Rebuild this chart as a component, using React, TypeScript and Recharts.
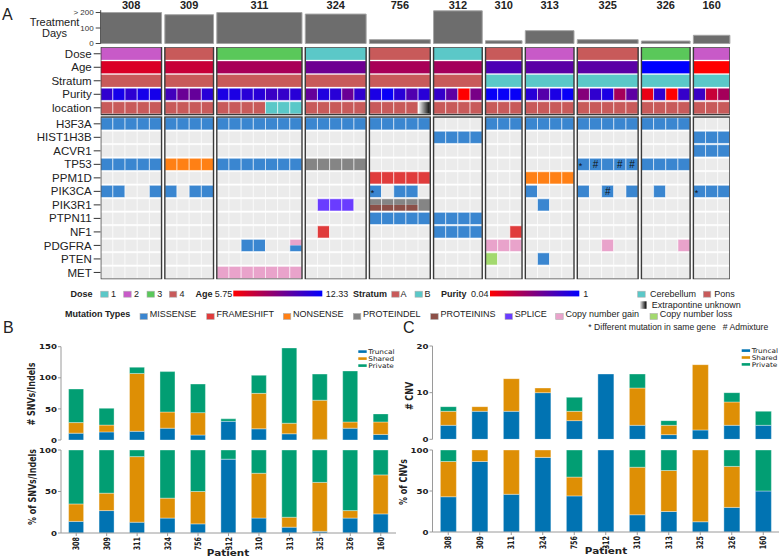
import React from "react";
import {
  ScatterChart,
  Scatter,
  BarChart,
  Bar,
  XAxis,
  YAxis,
  ReferenceArea,
} from "recharts";

/* ---------- panel A data ---------- */
const PATIENTS = ["308", "309", "311", "324", "756", "312", "310", "313", "325", "326", "160"];
const SAMPLES = [5, 4, 7, 5, 5, 4, 3, 4, 5, 4, 3];
const TREATMENT_DAYS = [200, 186, 200, 190, 25, 211, 18, 83, 25, 16, 53];
const DOSE = [2, 4, 3, 1, 4, 1, 4, 2, 4, 3, 2];
const AGE = [6.7, 7.2, 8.0, 9.5, 8.0, 8.1, 10.4, 10.0, 10.0, 12.33, 5.75];
const STRATUM = ["A", "A", "A", "A", "A", "A", "B", "B", "B", "B", "B"];
const PURITY = [
  [0.82, 0.92, 0.83, 0.92, 0.92],
  [0.75, 0.6, 0.62, 0.85],
  [0.9, 0.9, 0.85, 0.85, 0.78, 0.8, 0.85],
  [0.62, 0.88, 0.85, 0.6, 0.82],
  [0.9, 0.97, 0.85, 0.7, 0.85],
  [0.8, 0.65, 0.04, 0.55],
  [0.97, 0.97, 0.97],
  [0.85, 0.68, 0.9, 0.97],
  [0.5, 0.82, 0.9, 0.38, 0.65],
  [0.12, 0.82, 0.04, 0.8],
  [0.78, 0.25, 0.38],
];
// P = pons, C = cerebellum, U = extrapontine unknown
const LOCATION = ["PPPPP", "PPPP", "PPPPCCC", "PPPPP", "PPPPU", "PPPP", "PPP", "PPPP", "PPPPP", "PPPP", "PPP"];

const ANNOT_ROWS = ["Dose", "Age", "Stratum", "Purity", "location"];
const GENES = ["H3F3A", "HIST1H3B", "ACVR1", "TP53", "PPM1D", "PIK3CA", "PIK3R1", "PTPN11", "NF1", "PDGFRA", "PTEN", "MET"];
// one string per gene, one group per patient, one char per sample
// M missense, F frameshift, N nonsense, D proteindel, I proteinins, S splice,
// G copy gain, L copy loss, X = proteindel/proteinins, Y = gain/missense
const CALLS = [
  "MMMMM MMMM MMMMMMM MMMMM MMMMM .... MMM MMMM MMMMM MMMM ...",
  "..... .... ....... ..... ..... MMMM ... .... ..... .... MMM",
  "..... .... ....... ..... ..... .... ... .... ..... .... MMM",
  "MMMMM NNNN MMMMMMM DDDDD ..... .... ... .... MMMMM MMMM ...",
  "..... .... ....... ..... FFFFF .... ... NNNN ..... .... ...",
  "MM..M M.MM ....... ..... M.MM. .... ... M... M.M.M .M.. MMM",
  "..... .... ....... .SSS. XXXXD .... ... .M.. ..... .... ...",
  "..... .... ....... ..... MMMMM MMMM ... .... ..... .... ...",
  "..... .... ....... .F... ..... MMMM ..F .... ..... .... ...",
  "..... .... ..MM..Y ..... ..... .... GGG .... ..G.. ...G ...",
  "..... .... ....... ..... ..... .... L.. .M.. ..... .... ...",
  "..... .... GGGGGGG ..... ..... .... ... .... ..... .... ...",
];
const MARKS: [string, string, number, string][] = [
  ["TP53", "325", 0, "*"],
  ["TP53", "325", 1, "#"],
  ["TP53", "325", 3, "#"],
  ["TP53", "325", 4, "#"],
  ["PIK3CA", "756", 0, "*"],
  ["PIK3CA", "325", 2, "#"],
  ["PIK3CA", "160", 0, "*"],
];

/* ---------- panel B / C data ---------- */
const SNV_TRUNCAL = [11, 13, 14, 19, 8, 30, 18, 10, 1, 19, 9];
const SNV_SHARED = [17, 11, 93, 26, 36, 0, 57, 17, 63, 10, 20];
const SNV_PRIVATE = [54, 27, 10, 65, 46, 4, 29, 121, 42, 82, 13];
const SNV_PCT_TRUNCAL = [14, 27, 13, 18, 11, 89, 18, 7, 2, 18, 23];
const SNV_PCT_SHARED = [21, 21, 79, 24, 39, 0, 54, 12, 59, 9, 47];
const SNV_PCT_PRIVATE = [65, 52, 8, 58, 50, 11, 28, 81, 39, 73, 30];

const CNV_TRUNCAL = [3, 6, 6, 10, 4, 14, 3, 1, 2, 3, 3];
const CNV_SHARED = [3, 1, 7, 1, 2, 0, 8, 2, 14, 5, 0];
const CNV_PRIVATE = [1, 0, 0, 0, 3, 0, 3, 1, 0, 2, 3];
const CNV_PCT_TRUNCAL = [43, 86, 46, 91, 44, 100, 21, 25, 12.5, 30, 50];
const CNV_PCT_SHARED = [43, 14, 54, 9, 23, 0, 58, 50, 87.5, 50, 0];
const CNV_PCT_PRIVATE = [14, 0, 0, 0, 33, 0, 21, 25, 0, 20, 50];

/* ---------- styling ---------- */
const FONT_A = "'Liberation Sans', Arial, sans-serif";
const FONT_B = "'DejaVu Sans', sans-serif";

const DOSE_COLORS: Record<number, string> = { 1: "#5bc8c8", 2: "#c85ac8", 3: "#5ac85a", 4: "#c85a5a" };
const STRATUM_COLORS: Record<string, string> = { A: "#c85a5a", B: "#5ac8c8" };
const LOC_COLORS: Record<string, string> = { P: "#c85a5a", C: "#5ac8c8", U: "url(#extrap)" };
const MUT_COLORS: Record<string, string> = {
  M: "#3a86d0",
  F: "#e03c3c",
  N: "#ff8015",
  D: "#858585",
  I: "#8c5048",
  S: "#6a3cff",
  G: "#e9a3cb",
  L: "#a3d96e",
  ".": "#ebebeb",
};
const SPLIT: Record<string, [string, string]> = { X: ["D", "I"], Y: ["G", "M"] };

const C_TRUNCAL = "#0173b2";
const C_SHARED = "#de8f05";
const C_PRIVATE = "#029e73";
const SPINE = "#9a9a9a";

function redBlue(t: number) {
  const c = Math.max(0, Math.min(1, t));
  return `rgb(${Math.round(255 * (1 - c))},0,${Math.round(255 * c)})`;
}

/* ---------- panel A geometry ---------- */
const PLOT_L = 100.7;
const PLOT_R = 729.9;
const GAP = 0.27;
const STARTS: number[] = [];
SAMPLES.forEach((n, i) => STARTS.push(i === 0 ? 0 : STARTS[i - 1] + SAMPLES[i - 1] + GAP));
const X_MAX = STARTS[STARTS.length - 1] + SAMPLES[SAMPLES.length - 1];
const COL_PX = (PLOT_R - PLOT_L) / X_MAX;
const CENTERS = STARTS.map((s, i) => s + SAMPLES[i] / 2);

const GENE_GAP = 0.185;
const Y_MAX = ANNOT_ROWS.length + GENE_GAP + GENES.length;
const GRID_H = 238;
const GRID_MT = 3;
const GRID_MB = 2.8;
const ROW_PX = (GRID_H - GRID_MT - GRID_MB) / Y_MAX;
const ROW_CENTERS = [
  ...ANNOT_ROWS.map((_, i) => i + 0.5),
  ...GENES.map((_, g) => ANNOT_ROWS.length + GENE_GAP + g + 0.5),
];
const ROW_NAMES = [...ANNOT_ROWS, ...GENES];

interface CellDatum {
  x: number;
  y: number;
  w: number;
  fill: string;
  fill2?: string;
  mark?: string;
}

const CELLS: CellDatum[] = [];
PATIENTS.forEach((pt, p) => {
  const n = SAMPLES[p];
  const s0 = STARTS[p];
  CELLS.push({ x: s0 + n / 2, y: 0.5, w: n, fill: DOSE_COLORS[DOSE[p]] });
  CELLS.push({ x: s0 + n / 2, y: 1.5, w: n, fill: redBlue((AGE[p] - 5.75) / (12.33 - 5.75)) });
  CELLS.push({ x: s0 + n / 2, y: 2.5, w: n, fill: STRATUM_COLORS[STRATUM[p]] });
  PURITY[p].forEach((v, s) =>
    CELLS.push({ x: s0 + s + 0.5, y: 3.5, w: 1, fill: redBlue((v - 0.04) / 0.96) })
  );
  LOCATION[p].split("").forEach((c, s) =>
    CELLS.push({ x: s0 + s + 0.5, y: 4.5, w: 1, fill: LOC_COLORS[c] })
  );
  GENES.forEach((gene, g) => {
    const calls = CALLS[g].split(" ")[p];
    calls.split("").forEach((c, s) => {
      const mark = MARKS.find((m) => m[0] === gene && m[1] === pt && m[2] === s);
      const y = ANNOT_ROWS.length + GENE_GAP + g + 0.5;
      if (SPLIT[c]) {
        CELLS.push({ x: s0 + s + 0.5, y, w: 1, fill: MUT_COLORS[SPLIT[c][0]], fill2: MUT_COLORS[SPLIT[c][1]] });
      } else {
        CELLS.push({ x: s0 + s + 0.5, y, w: 1, fill: MUT_COLORS[c], mark: mark ? mark[3] : undefined });
      }
    });
  });
});

const BOXES = PATIENTS.flatMap((_, p) => [
  { x: CENTERS[p], y: ANNOT_ROWS.length / 2, w: SAMPLES[p], h: ANNOT_ROWS.length },
  { x: CENTERS[p], y: ANNOT_ROWS.length + GENE_GAP + GENES.length / 2, w: SAMPLES[p], h: GENES.length },
]);

function CellShape(props: any) {
  const { cx, cy, payload } = props;
  const w = payload.w * COL_PX;
  const h = ROW_PX - 1.3;
  const x0 = cx - w / 2;
  const y0 = cy - h / 2;
  const sep = payload.w === 1;
  return (
    <g>
      {payload.fill === "url(#extrap)" && (
        <defs>
          <linearGradient id="extrap" x1="0" x2="1" y1="0" y2="0">
            <stop offset="0" stopColor="#ffffff" />
            <stop offset="1" stopColor="#000000" />
          </linearGradient>
        </defs>
      )}
      {payload.fill2 ? (
        <>
          <rect x={x0} y={y0} width={w} height={h / 2} fill={payload.fill} />
          <rect x={x0} y={cy} width={w} height={h / 2} fill={payload.fill2} />
          <rect x={x0} y={y0} width={w} height={h} fill="none" stroke="#fff" strokeOpacity={0.55} strokeWidth={1} />
        </>
      ) : (
        <rect
          x={x0}
          y={y0}
          width={w}
          height={h}
          fill={payload.fill}
          stroke={sep ? "#fff" : "none"}
          strokeOpacity={0.55}
          strokeWidth={1}
        />
      )}
      {payload.mark && (
        <text
          x={payload.mark === "*" ? x0 + 3.2 : cx}
          y={cy + (payload.mark === "*" ? 4.5 : 3.5)}
          textAnchor="middle"
          fontSize={payload.mark === "*" ? 9 : 10}
          fontFamily={FONT_A}
          fill="#111"
        >
          {payload.mark}
        </text>
      )}
    </g>
  );
}

function BoxShape(props: any) {
  const { cx, cy, payload } = props;
  const w = payload.w * COL_PX;
  const h = payload.h * ROW_PX;
  return (
    <rect x={cx - w / 2} y={cy - h / 2} width={w} height={h} fill="none" stroke="#3a3a3a" strokeWidth={1.4} />
  );
}

function PatientTick(props: any) {
  const { x, y, payload } = props;
  const i = CENTERS.indexOf(payload.value);
  return (
    <text x={x} y={y} textAnchor="middle" fontSize={11} fontWeight="bold" fontFamily={FONT_A} fill="#222">
      {i >= 0 ? PATIENTS[i] : ""}
    </text>
  );
}

/* ---------- panel B / C pieces ---------- */
function rows(t: number[], s: number[], p: number[]) {
  return PATIENTS.map((patient, i) => ({ patient, t: t[i], s: s[i], p: p[i] }));
}
const SNV_COUNT = rows(SNV_TRUNCAL, SNV_SHARED, SNV_PRIVATE);
const SNV_PCT = rows(SNV_PCT_TRUNCAL, SNV_PCT_SHARED, SNV_PCT_PRIVATE);
const CNV_COUNT = rows(CNV_TRUNCAL, CNV_SHARED, CNV_PRIVATE);
const CNV_PCT = rows(CNV_PCT_TRUNCAL, CNV_PCT_SHARED, CNV_PCT_PRIVATE);

function BYTick(props: any) {
  const { x, y, payload } = props;
  return (
    <text
      transform={`translate(${x},${y}) scale(1.15,1)`}
      textAnchor="end"
      dy="0.35em"
      fontSize={7.5}
      fontWeight="bold"
      fontFamily={FONT_B}
      fill="#222"
    >
      {payload.value}
    </text>
  );
}

function BXTick(props: any) {
  const { x, y, payload } = props;
  return (
    <g transform={`translate(${x},${y})`}>
      <text
        transform="rotate(-90) scale(1,1.4)"
        textAnchor="end"
        dy="0.35em"
        fontSize={6.4}
        fontWeight="bold"
        fontFamily={FONT_B}
        fill="#222"
      >
        {payload.value}
      </text>
    </g>
  );
}

interface StackProps {
  data: { patient: string; t: number; s: number; p: number }[];
  left: number;
  top: number;
  width: number;
  height: number;
  margin: { top: number; right: number; bottom: number; left: number };
  yMax: number;
  yTicks: number[];
  showX: boolean;
}

function StackPlot({ data, left, top, width, height, margin, yMax, yTicks, showX }: StackProps) {
  return (
    <div style={{ position: "absolute", left, top }}>
      <BarChart width={width} height={height} data={data} margin={margin} barCategoryGap="25%">
        <XAxis
          dataKey="patient"
          interval={0}
          height={showX ? 24 : 0}
          tick={showX ? <BXTick /> : false}
          tickLine={showX ? { stroke: SPINE } : false}
          tickSize={3}
          tickMargin={1}
          axisLine={{ stroke: SPINE }}
        />
        <XAxis xAxisId="top" dataKey="patient" orientation="top" height={0} tick={false} tickLine={false} axisLine={{ stroke: SPINE }} />
        <YAxis
          type="number"
          domain={[0, yMax]}
          allowDataOverflow
          ticks={yTicks}
          interval={0}
          width={30}
          tickSize={3}
          tickMargin={1}
          tick={<BYTick />}
          tickLine={{ stroke: SPINE }}
          axisLine={{ stroke: SPINE }}
        />
        <YAxis yAxisId="right" orientation="right" type="number" domain={[0, 1]} width={0} tick={false} tickLine={false} axisLine={{ stroke: SPINE }} />
        <Bar dataKey="t" stackId="a" fill={C_TRUNCAL} stroke="#ffffff" strokeOpacity={0.45} strokeWidth={0.8} isAnimationActive={false} />
        <Bar dataKey="s" stackId="a" fill={C_SHARED} stroke="#ffffff" strokeOpacity={0.45} strokeWidth={0.8} isAnimationActive={false} />
        <Bar dataKey="p" stackId="a" fill={C_PRIVATE} stroke="#ffffff" strokeOpacity={0.45} strokeWidth={0.8} isAnimationActive={false} />
      </BarChart>
    </div>
  );
}

/* ---------- overlay text helpers ---------- */
function SText(props: {
  x: number;
  y: number;
  sx?: number;
  sy?: number;
  rot?: number;
  dy?: string;
  anchor?: "start" | "middle" | "end";
  size: number;
  bold?: boolean;
  family?: string;
  children: React.ReactNode;
}) {
  const { x, y, sx = 1, sy = 1, rot = 0, dy, anchor = "start", size, bold, family = FONT_A, children } = props;
  return (
    <text
      transform={`translate(${x},${y}) rotate(${rot}) scale(${sx},${sy})`}
      dy={dy}
      textAnchor={anchor}
      fontSize={size}
      fontWeight={bold ? "bold" : "normal"}
      fontFamily={family}
      fill="#222"
    >
      {children}
    </text>
  );
}

function Sq({ x, y, fill }: { x: number; y: number; fill: string }) {
  return <rect x={x} y={y} width={7.5} height={6} fill={fill} stroke="#b0b0b0" strokeWidth={0.6} />;
}

const MUT_LEGEND: [string, string, number][] = [
  ["MISSENSE", "M", 140],
  ["FRAMESHIFT", "F", 206.7],
  ["NONSENSE", "N", 283.3],
  ["PROTEINDEL", "D", 353.3],
  ["PROTEININS", "I", 430.7],
  ["SPLICE", "S", 505],
  ["Copy number gain", "G", 555.7],
  ["Copy number loss", "L", 650],
];
const SERIES_LEGEND: [string, string][] = [
  ["Truncal", C_TRUNCAL],
  ["Shared", C_SHARED],
  ["Private", C_PRIVATE],
];

function Overlay() {
  const r1 = 297;
  const r2 = 317;
  return (
    <svg width={784} height={559} style={{ position: "absolute", left: 0, top: 0, pointerEvents: "none" }}>
      <defs>
        <linearGradient id="rb" x1="0" x2="1" y1="0" y2="0">
          <stop offset="0" stopColor="#ff0000" />
          <stop offset="1" stopColor="#0000ff" />
        </linearGradient>
        <linearGradient id="wb" x1="0" x2="1" y1="0" y2="0">
          <stop offset="0" stopColor="#ffffff" />
          <stop offset="1" stopColor="#000000" />
        </linearGradient>
      </defs>
      <SText x={2} y={20} size={16}>A</SText>
      <SText x={3} y={333} size={16}>B</SText>
      <SText x={403} y={333} size={16}>C</SText>
      <SText x={54.5} y={26} size={11} anchor="middle">Treatment</SText>
      <SText x={54.5} y={37} size={11} anchor="middle">Days</SText>

      {/* legend row 1 */}
      <SText x={70.5} y={r1} size={9} bold>Dose</SText>
      {[1, 2, 3, 4].map((d, i) => (
        <g key={d}>
          <Sq x={[100.7, 123.7, 147, 169.3][i]} y={291.2} fill={DOSE_COLORS[d]} />
          <SText x={[100.7, 123.7, 147, 169.3][i] + 10.3} y={r1} size={9}>{String(d)}</SText>
        </g>
      ))}
      <SText x={195.5} y={r1} size={9} bold>Age</SText>
      <SText x={214.7} y={r1} size={9}>5.75</SText>
      <rect x={233.3} y={290.6} width={89} height={5.8} fill="url(#rb)" />
      <SText x={325.7} y={r1} size={9}>12.33</SText>
      <SText x={353} y={r1} size={9} bold>Stratum</SText>
      <Sq x={391.7} y={291.2} fill={STRATUM_COLORS.A} />
      <SText x={400.5} y={r1} size={9}>A</SText>
      <Sq x={415} y={291.2} fill={STRATUM_COLORS.B} />
      <SText x={424.5} y={r1} size={9}>B</SText>
      <SText x={441} y={r1} size={9} bold>Purity</SText>
      <SText x={471} y={r1} size={9}>0.04</SText>
      <rect x={490} y={290.6} width={89.3} height={5.8} fill="url(#rb)" />
      <SText x={583.3} y={r1} size={9}>1</SText>
      <Sq x={637.7} y={291.2} fill={LOC_COLORS.C} />
      <SText x={650} y={r1} size={9}>Cerebellum</SText>
      <Sq x={703.3} y={291.2} fill={LOC_COLORS.P} />
      <SText x={714.3} y={r1} size={9}>Pons</SText>
      <rect x={639.5} y={301.3} width={7} height={7.5} fill="url(#wb)" />
      <SText x={651.7} y={308} size={9}>Extrapontine unknown</SText>

      {/* legend row 2 */}
      <SText x={65} y={r2} size={9} bold>Mutation Types</SText>
      {MUT_LEGEND.map(([label, code, x]) => (
        <g key={label}>
          <Sq x={x} y={313.5} fill={MUT_COLORS[code]} />
          <SText x={x + 9.7} y={r2} size={9}>{label}</SText>
        </g>
      ))}
      <SText x={588.3} y={329.5} size={8.6}>* Different mutation in same gene&#160;&#160;&#160;# Admixture</SText>

      {/* panel B / C axis titles */}
      <SText x={31.7} y={394} rot={-90} sy={1.3} dy="0.35em" anchor="middle" size={8} bold family={FONT_B}># SNVs/Indels</SText>
      <SText x={32} y={487} rot={-90} sy={1.3} dy="0.35em" anchor="middle" size={8} bold family={FONT_B}>% of SNVs/Indels</SText>
      <SText x={409.5} y={396} rot={-90} sy={1.3} dy="0.35em" anchor="middle" size={8} bold family={FONT_B}># CNV</SText>
      <SText x={403} y={482} rot={-90} sy={1.3} dy="0.35em" anchor="middle" size={8} bold family={FONT_B}>% of CNVs</SText>
      <SText x={228} y={555.5} sx={1.3} anchor="middle" size={8} bold family={FONT_B}>Patient</SText>
      <SText x={606} y={554} sx={1.3} anchor="middle" size={8} bold family={FONT_B}>Patient</SText>

      {/* series legends */}
      {SERIES_LEGEND.map(([label, color], i) => (
        <g key={"b" + label}>
          <rect x={358.3} y={351.6 + i * 7 - 1.3} width={8.4} height={2.6} fill={color} />
          <SText x={368.3} y={351.6 + i * 7 + 2.2} sx={1.15} size={6.4} family={FONT_B}>{label}</SText>
        </g>
      ))}
      {SERIES_LEGEND.map(([label, color], i) => (
        <g key={"c" + label}>
          <rect x={741.7} y={350.6 + i * 6.9 - 1.3} width={8.4} height={2.6} fill={color} />
          <SText x={751.7} y={350.6 + i * 6.9 + 2.2} sx={1.15} size={6.4} family={FONT_B}>{label}</SText>
        </g>
      ))}
    </svg>
  );
}

export default function App() {
  const treatmentPts = PATIENTS.map((_, i) => ({ x: CENTERS[i], y: TREATMENT_DAYS[i] }));
  return (
    <div style={{ position: "absolute", left: 0, top: 0, width: 784, height: 559, background: "#fff", overflow: "hidden" }}>
      {/* treatment days */}
      <div style={{ position: "absolute", left: 0, top: 0 }}>
        <ScatterChart width={784} height={52} margin={{ top: 0, right: 784 - PLOT_R, bottom: 8.5, left: PLOT_L - 40 }}>
          <XAxis
            type="number"
            dataKey="x"
            orientation="top"
            domain={[0, X_MAX]}
            allowDataOverflow
            ticks={CENTERS}
            interval={0}
            height={10.2}
            axisLine={false}
            tickLine={false}
            tickSize={0}
            tickMargin={1}
            tick={<PatientTick />}
          />
          <YAxis
            type="number"
            dataKey="y"
            domain={[0, 215]}
            allowDataOverflow
            ticks={[0, 100, 200]}
            interval={0}
            width={40}
            tickSize={5}
            tickMargin={2}
            tick={{ fontSize: 8, fill: "#333", fontFamily: FONT_A }}
            tickFormatter={(v: number) => (v === 200 ? "> 200" : String(v))}
            axisLine={{ stroke: "#444" }}
            tickLine={{ stroke: "#444" }}
          />
          {PATIENTS.map((p, i) => (
            <ReferenceArea
              key={p}
              x1={STARTS[i]}
              x2={STARTS[i] + SAMPLES[i]}
              y1={0}
              y2={TREATMENT_DAYS[i]}
              fill="#6d6d6d"
              fillOpacity={1}
              stroke="#a5a5a5"
              strokeWidth={1}
              ifOverflow="visible"
            />
          ))}
          <Scatter data={treatmentPts} shape={() => <g />} isAnimationActive={false} />
        </ScatterChart>
      </div>

      {/* oncoprint */}
      <div style={{ position: "absolute", left: 0, top: 44 }}>
        <ScatterChart width={784} height={GRID_H} margin={{ top: GRID_MT, right: 784 - PLOT_R, bottom: GRID_MB, left: PLOT_L - 100 }}>
          <XAxis type="number" dataKey="x" domain={[0, X_MAX]} allowDataOverflow hide />
          <YAxis
            type="number"
            dataKey="y"
            domain={[0, Y_MAX]}
            reversed
            allowDataOverflow
            ticks={ROW_CENTERS}
            interval={0}
            width={100}
            tickSize={7}
            tickMargin={2}
            axisLine={false}
            tickLine={{ stroke: "#333" }}
            tick={{ fontSize: 11.5, fill: "#222", fontFamily: FONT_A }}
            tickFormatter={(v: number) => ROW_NAMES[ROW_CENTERS.indexOf(v)] ?? ""}
          />
          <Scatter data={CELLS} shape={CellShape} isAnimationActive={false} />
          <Scatter data={BOXES} shape={BoxShape} isAnimationActive={false} />
        </ScatterChart>
      </div>

      {/* panel B */}
      <StackPlot data={SNV_COUNT} left={0} top={340} width={400} height={105}
        margin={{ top: 6.7, right: 4, bottom: 5, left: 31 }} yMax={150} yTicks={[0, 50, 100, 150]} showX={false} />
      <StackPlot data={SNV_PCT} left={0} top={445} width={400} height={114}
        margin={{ top: 5, right: 4, bottom: 2, left: 31 }} yMax={100} yTicks={[0, 50, 100]} showX />

      {/* panel C */}
      <StackPlot data={CNV_COUNT} left={400} top={340} width={384} height={105}
        margin={{ top: 6, right: 5, bottom: 5.7, left: 2.5 }} yMax={20} yTicks={[0, 10, 20]} showX={false} />
      <StackPlot data={CNV_PCT} left={400} top={445} width={384} height={114}
        margin={{ top: 5, right: 5, bottom: 3, left: 2.5 }} yMax={100} yTicks={[0, 50, 100]} showX />

      <Overlay />
    </div>
  );
}
